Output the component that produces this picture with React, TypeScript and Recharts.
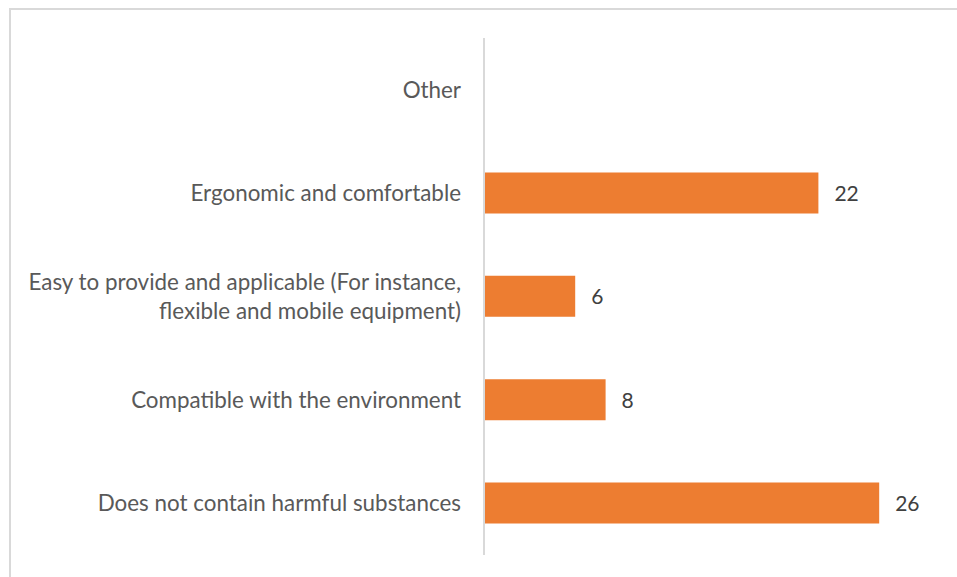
import { BarChart, Bar, XAxis, YAxis, LabelList } from "recharts";

// categories, top to bottom
const categories = [
  "Other",
  "Ergonomic and comfortable",
  "Easy to provide and applicable (For instance, flexible and mobile equipment)",
  "Compatible with the environment",
  "Does not contain harmful substances",
];

// how each category label is broken into lines
const tickLines = [
  ["Other"],
  ["Ergonomic and comfortable"],
  ["Easy to provide and applicable (For instance,", "flexible and mobile equipment)"],
  ["Compatible with the environment"],
  ["Does not contain harmful substances"],
];

const counts = [0, 22, 6, 8, 26];

const data = categories.map((c, i) => ({ name: c, value: counts[i] }));

const FONT = "Lato, 'Open Sans', sans-serif";

function CategoryTick(props: any) {
  const { x, y, payload } = props;
  const idx = categories.indexOf(payload.value);
  const lines = tickLines[idx] || [payload.value];
  const lh = 29;
  const start = -((lines.length - 1) * lh) / 2;
  return (
    <text
      x={x}
      y={y}
      textAnchor="end"
      fill="#595959"
      fontSize={22.4}
      fontFamily={FONT}
    >
      {lines.map((l, i) => (
        <tspan key={i} x={x} dy={i === 0 ? start + 8 : lh}>
          {l}
        </tspan>
      ))}
    </text>
  );
}

function ValueLabel(props: any) {
  const { x, y, width, height, value } = props;
  if (!value) return null;
  return (
    <text
      x={x + width + 16}
      y={y + height / 2 + 8}
      fill="#404040"
      fontSize={21}
      fontFamily={FONT}
    >
      {value}
    </text>
  );
}

export default function App() {
  return (
    <div
      style={{
        position: "fixed",
        left: 0,
        top: 0,
        width: 957,
        height: 577,
        overflow: "hidden",
        background: "#fff",
      }}
    >
      <div
        style={{
          position: "absolute",
          left: 9,
          top: 8,
          width: 980,
          height: 600,
          borderLeft: "2px solid #d9d9d9",
          borderTop: "2px solid #d9d9d9",
        }}
      />
      <div style={{ position: "absolute", left: 0, top: 0 }}>
        <BarChart
          width={957}
          height={577}
          data={data}
          layout="vertical"
          margin={{ top: 38, right: 17, bottom: 22, left: 0 }}
        >
          <XAxis type="number" domain={[0, 30]} hide />
          <YAxis
            type="category"
            dataKey="name"
            width={484}
            axisLine={{ stroke: "#d9d9d9", strokeWidth: 2 }}
            tickLine={false}
            tickSize={0}
            tickMargin={23}
            tick={<CategoryTick />}
            interval={0}
          />
          <Bar dataKey="value" fill="#ED7D31" barSize={41} isAnimationActive={false}>
            <LabelList dataKey="value" content={<ValueLabel />} />
          </Bar>
        </BarChart>
      </div>
    </div>
  );
}
